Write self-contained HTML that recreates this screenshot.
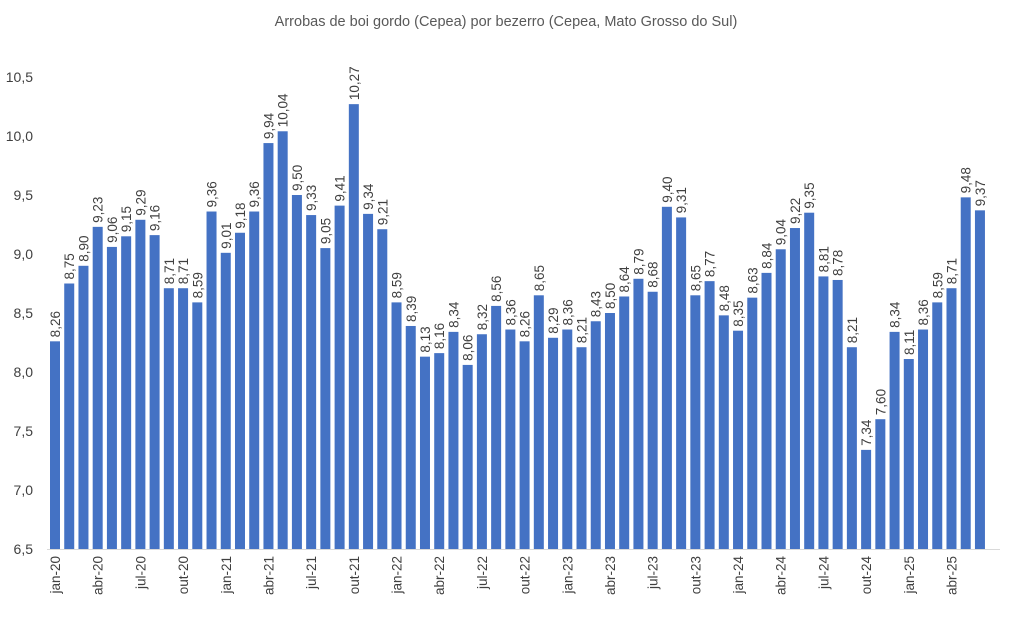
<!DOCTYPE html>
<html><head><meta charset="utf-8"><style>body{margin:0;background:#fff}</style></head>
<body>
<svg width="1012" height="629" xmlns="http://www.w3.org/2000/svg" font-family="Liberation Sans, sans-serif" fill="#404040">
<text x="506" y="26" text-anchor="middle" font-size="14.5" fill="#595959">Arrobas de boi gordo (Cepea) por bezerro (Cepea, Mato Grosso do Sul)</text>
<g id="y" font-size="14" text-anchor="end"></g>
<line x1="47" y1="549.5" x2="1000" y2="549.5" stroke="#d9d9d9" stroke-width="1"/>
<g id="bars"></g>
</svg>
<script>
const v=[8.26,8.75,8.90,9.23,9.06,9.15,9.29,9.16,8.71,8.71,8.59,9.36,
9.01,9.18,9.36,9.94,10.04,9.50,9.33,9.05,9.41,10.27,9.34,9.21,
8.59,8.39,8.13,8.16,8.34,8.06,8.32,8.56,8.36,8.26,8.65,8.29,
8.36,8.21,8.43,8.50,8.64,8.79,8.68,9.40,9.31,8.65,8.77,8.48,
8.35,8.63,8.84,9.04,9.22,9.35,8.81,8.78,8.21,7.34,7.60,8.34,
8.11,8.36,8.59,8.71,9.48,9.37];
const mo=['jan','abr','jul','out'];
const Y=x=>549-(x-6.5)*118;
let s='';
const ns='http://www.w3.org/2000/svg';
for(let t=6.5;t<=10.51;t+=0.5){s+=`<text x="33" y="${Y(t)+5}" font-size="14" text-anchor="end">${t.toFixed(1).replace('.',',')}</text>`;}
v.forEach((d,i)=>{const cx=55+i*14.23;const y=Y(d);
s+=`<rect x="${cx-5}" y="${y}" width="10" height="${549-y}" fill="#4472c4"/>`;
s+=`<text transform="translate(${cx+5},${y-4}) rotate(-90)" font-size="13.5">${d.toFixed(2).replace('.',',')}</text>`;
if(i%3==0){const yr=20+Math.floor(i/12);s+=`<text transform="translate(${cx+5},556) rotate(-90)" font-size="13.5" text-anchor="end">${mo[(i%12)/3]}-${yr}</text>`;}
});
document.getElementById('bars').innerHTML=s;
</script>
</body></html>
